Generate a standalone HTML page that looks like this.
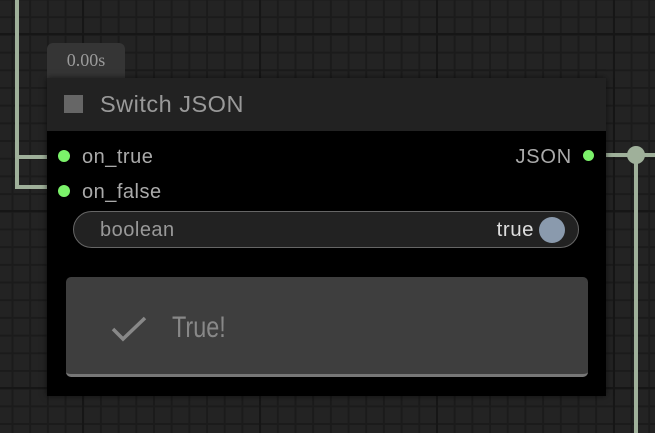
<!DOCTYPE html>
<html><head><meta charset="utf-8"><style>
*{margin:0;padding:0;box-sizing:border-box}
body{width:655px;height:433px;overflow:hidden;position:relative;background-color:#232323;
background-image:
linear-gradient(90deg,#161616 0 2px,transparent 2px),
linear-gradient(0deg,#161616 0 2px,transparent 2px),
linear-gradient(90deg,#1b1b1b 0 2px,transparent 2px),
linear-gradient(0deg,#1b1b1b 0 2px,transparent 2px);
background-size:177px 177px,177px 177px,17.7px 17.7px,17.7px 17.7px;
background-position:82px 0,0 35px,11.5px 0,0 0.5px;
font-family:"Liberation Sans",sans-serif}
.a{position:absolute;white-space:nowrap}
.w{background:#9fb09a}
.dot{position:absolute;width:12px;height:12px;border-radius:50%;background:#7bf26a}
</style></head><body>
<div class="a w" style="left:15px;top:0;width:4px;height:189px"></div>
<div class="a w" style="left:15px;top:155px;width:34px;height:4px"></div>
<div class="a w" style="left:15px;top:185px;width:34px;height:4px"></div>
<div class="a w" style="left:606px;top:153px;width:49px;height:4px"></div>
<div class="a w" style="left:634px;top:155px;width:4px;height:278px"></div>
<div class="a" style="left:627px;top:146px;width:18px;height:18px;border-radius:50%;background:#9fb09a"></div>

<div class="a" style="left:47px;top:43px;width:78px;height:36px;background:#353535;border-radius:6px 6px 0 0;color:#9a9a9a;font-family:'Liberation Serif',serif;font-size:18px;line-height:34px;text-align:center">0.00s</div>
<div class="a" style="left:47px;top:78px;width:559px;height:318px;background:#000;box-shadow:0 0 6px rgba(0,0,0,.6)"></div>
<div class="a" style="left:47px;top:78px;width:559px;height:53px;background:#222"></div>
<div class="a" style="left:64px;top:95px;width:19px;height:18px;background:#666"></div>
<div class="a" style="left:100px;top:89px;color:#999;font-size:23.5px;line-height:30px;letter-spacing:0.5px">Switch JSON</div>

<div class="dot" style="left:58px;top:150px"></div>
<div class="a" style="left:82px;top:145px;color:#aaa;font-size:20px;line-height:24px;letter-spacing:0.5px">on_true</div>
<div class="dot" style="left:58px;top:185px"></div>
<div class="a" style="left:82px;top:180px;color:#aaa;font-size:20px;line-height:24px;letter-spacing:0.5px">on_false</div>
<div class="a" style="left:470px;top:145px;width:102px;text-align:right;color:#aaa;font-size:20px;line-height:24px;letter-spacing:0.8px">JSON</div>
<div class="dot" style="left:583px;top:150px;width:11px;height:11px"></div>

<div class="a" style="left:73px;top:211px;width:506px;height:37px;border:1.5px solid #666;border-radius:19px;background:#222"></div>
<div class="a" style="left:100px;top:218px;color:#999;font-size:20px;line-height:24px;letter-spacing:0.5px">boolean</div>
<div class="a" style="left:430px;top:218px;width:104px;text-align:right;color:#ddd;font-size:20.5px;line-height:24px;letter-spacing:0.5px">true</div>
<div class="a" style="left:539px;top:217px;width:26px;height:26px;border-radius:50%;background:#8a9aad"></div>

<div class="a" style="left:66px;top:277px;width:522px;height:100px;background:#3e3e3e;border-radius:5px;border-bottom:3px solid #777"></div>
<svg class="a" style="left:110px;top:312px" width="40" height="32"><polyline points="3,17 13,27 35,6" fill="none" stroke="#888" stroke-width="3.5"/></svg>
<div class="a" style="left:172px;top:310px;color:#888;font-family:'Liberation Sans Narrow','Liberation Sans',sans-serif;font-size:30px;line-height:36px;transform:scaleX(.78);transform-origin:left">True!</div>
</body></html>
